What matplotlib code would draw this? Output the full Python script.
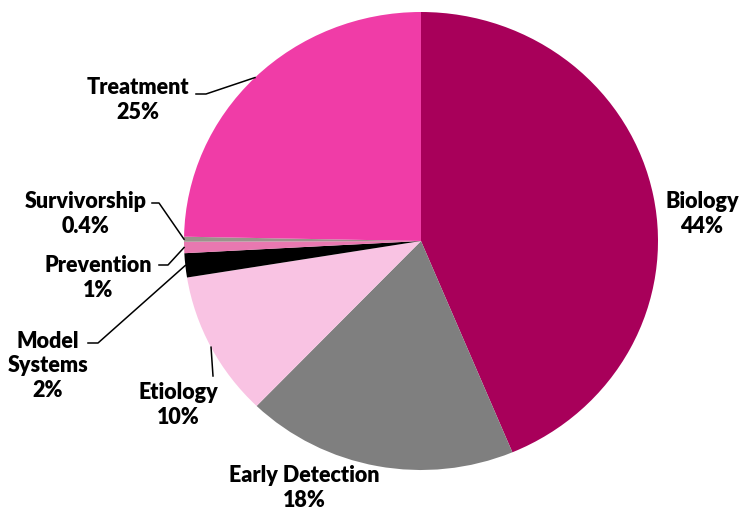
import numpy as np
import matplotlib
matplotlib.use('Agg')
import matplotlib.pyplot as plt

plt.rcParams['font.family'] = ['Lato', 'DejaVu Sans']

categories = ['Biology', 'Early Detection', 'Etiology', 'Model Systems',
              'Prevention', 'Survivorship', 'Treatment']
values = [43.7, 18.5, 10.25, 1.7, 0.8, 0.35, 24.7]
labels = ['Biology\n44%', 'Early Detection\n18%', 'Etiology\n10%',
          'Model\nSystems\n2%', 'Prevention\n1%', 'Survivorship\n0.4%',
          'Treatment\n25%']
colors = ['#A8005A', '#7F7F7F', '#F9C3E3', '#000000', '#E878B0',
          '#9B928B', '#F03CA7']

W, H = 739, 512
fig = plt.figure(figsize=(W / 100, H / 100), dpi=100)
# pie is slightly wider than tall in the reference
ax = fig.add_axes([184 / W, 42 / H, 474 / W, 458 / H])

wedges, _ = ax.pie(values, colors=colors, startangle=90, counterclock=False,
                   wedgeprops=dict(linewidth=0))
ax.set_aspect('auto')
ax.set_xlim(-1, 1)
ax.set_ylim(-1, 1)
ax.axis('off')


def px(x, y):
    # reference pixel -> data coords
    return (x - 421) / 237, (241 - y) / 229


def edge(w):
    t = np.deg2rad((w.theta1 + w.theta2) / 2)
    return np.cos(t), np.sin(t)


txt_pos = {
    'Biology': px(702, 214),
    'Early Detection': px(304, 488),
    'Etiology': px(178, 405),
    'Model Systems': px(48, 366),
    'Prevention': px(98, 278),
    'Survivorship': px(86, 214),
    'Treatment': px(138, 100),
}
leader = {
    'Etiology': [px(213, 376)],
    'Model Systems': [px(88, 343), px(98, 343)],
    'Prevention': [px(159, 265), px(168, 265)],
    'Survivorship': [px(152, 203), px(159, 203)],
    'Treatment': [px(196, 94), px(206, 94)],
}

for w, cat, lab in zip(wedges, categories, labels):
    x, y = txt_pos[cat]
    ax.text(x, y, lab, ha='center', va='center', fontsize=15.5,
            fontweight='heavy', linespacing=1.2, color='black', clip_on=False)
    if cat in leader:
        pts = leader[cat] + [edge(w)]
        ax.plot([p[0] for p in pts], [p[1] for p in pts], color='black',
                linewidth=1.1, clip_on=False)

fig.savefig('out.png', dpi=100)
